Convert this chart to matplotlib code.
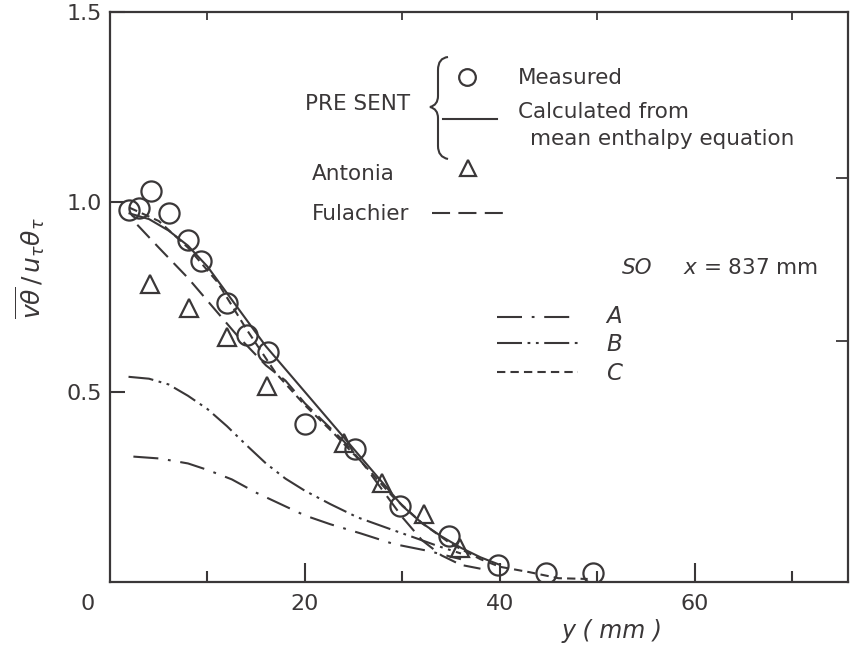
import numpy as np
import matplotlib
matplotlib.use('Agg')
import matplotlib.pyplot as plt
from matplotlib.path import Path
from matplotlib.patches import PathPatch
from matplotlib.lines import Line2D

plt.rcParams['lines.scale_dashes'] = False
plt.rcParams['font.family'] = ['DejaVu Sans']
plt.rcParams['mathtext.fontset'] = 'dejavusans'

# ---------------- data ----------------
meas_x = [2.0, 3.0, 4.2, 6.1, 8.0, 9.3, 12.0, 14.1, 16.2, 20.0, 25.1, 29.7, 34.8, 39.8, 44.7, 49.5]
meas_y = [0.98, 0.985, 1.03, 0.97, 0.90, 0.845, 0.735, 0.65, 0.605, 0.415, 0.35, 0.20, 0.12, 0.045, 0.025, 0.025]

antonia_x = [4.1, 8.1, 12.0, 16.1, 24.0, 27.9, 32.2, 35.9]
antonia_y = [0.785, 0.72, 0.645, 0.515, 0.365, 0.26, 0.18, 0.09]

calc_x = [2, 4, 6, 8, 10, 12, 14, 16, 18, 20, 22, 24, 26, 28, 30, 32, 34, 36, 38, 40]
calc_y = [0.97, 0.955, 0.925, 0.885, 0.83, 0.76, 0.69, 0.62, 0.56, 0.50, 0.44, 0.38, 0.32, 0.26, 0.20, 0.155, 0.12, 0.09, 0.065, 0.045]

fula_x = [2.8, 5, 8, 10, 13, 16, 18, 20, 22, 24, 26, 28, 30, 32, 34, 36, 38]
fula_y = [0.94, 0.88, 0.80, 0.74, 0.65, 0.57, 0.53, 0.47, 0.42, 0.37, 0.31, 0.24, 0.17, 0.11, 0.07, 0.045, 0.035]

a_x = [2.4, 5.1, 8.0, 10.0, 12.5, 15.0, 17.5, 20.0, 22.6, 25.7, 29.1, 32.6, 36.0]
a_y = [0.33, 0.325, 0.312, 0.295, 0.27, 0.235, 0.205, 0.175, 0.152, 0.128, 0.10, 0.082, 0.06]

b_x = [1.9, 4.0, 6.0, 8.0, 10.0, 12.0, 14.0, 16.0, 18.0, 20.0, 22.6, 25.4, 29.1, 31.1, 33.6, 36.0]
b_y = [0.54, 0.535, 0.52, 0.49, 0.455, 0.41, 0.36, 0.312, 0.272, 0.24, 0.205, 0.17, 0.136, 0.118, 0.095, 0.075]

c_x = [2, 5, 8, 11, 14, 17, 20, 23, 26, 29, 32, 35, 38, 40, 43, 46, 49]
c_y = [0.985, 0.95, 0.88, 0.79, 0.665, 0.55, 0.465, 0.39, 0.31, 0.225, 0.155, 0.10, 0.06, 0.04, 0.026, 0.01, 0.008]

x_major = [20, 40, 60]
x_minor = [10, 30, 50, 70]
y_major = [0.5, 1.0, 1.5]
y_major_labels = ['0.5', '1.0', '1.5']

# ---------------- styles ----------------
INK = '#3a3738'
LW = 1.5
S_FULA = (0, (13, 6))
S_A = (0, (18, 7, 2, 7))
S_B = (0, (18, 4, 2, 4, 2, 4))
S_C = (0, (6, 3.7))

W, H = 851, 647
fig = plt.figure(figsize=(W / 100, H / 100), dpi=100)
ax = fig.add_axes([110 / W, 1 - 582 / H, 738 / W, 570 / H])
ax.set_xlim(0, 75.7)
ax.set_ylim(0, 1.5)

ax.plot(calc_x, calc_y, color=INK, lw=LW, ls='-')
ax.plot(fula_x, fula_y, color=INK, lw=LW, ls=S_FULA)
ax.plot(a_x, a_y, color=INK, lw=LW, ls=S_A)
ax.plot(b_x, b_y, color=INK, lw=LW, ls=S_B)
ax.plot(c_x, c_y, color=INK, lw=LW, ls=S_C)
ax.plot(meas_x, meas_y, ls='none', marker='o', ms=14.5, mfc='none', mec=INK, mew=1.6, zorder=5)
ax.plot(antonia_x, antonia_y, ls='none', marker='^', ms=13, mfc='none', mec=INK, mew=1.6, zorder=5)

for sp in ax.spines.values():
    sp.set_color(INK)
    sp.set_linewidth(1.6)

ax.set_xticks(x_major)
ax.set_xticks(x_minor, minor=True)
ax.set_xticklabels([str(v) for v in x_major])
ax.set_yticks(y_major)
ax.set_yticklabels(y_major_labels)
ax.tick_params(axis='x', which='major', direction='in', length=14, width=1.5, color=INK,
               labelsize=16, labelcolor=INK, pad=9)
ax.tick_params(axis='x', which='minor', direction='in', length=8, width=1.5, color=INK)
ax.tick_params(axis='y', which='major', direction='in', length=11, width=1.5, color=INK,
               labelsize=16, labelcolor=INK, pad=6)

top = ax.secondary_xaxis('top')
top.set_xticks(x_minor)
top.tick_params(direction='in', length=6, width=1.3, color=INK, labeltop=False)
right = ax.secondary_yaxis('right')
right.set_yticks([0.635, 1.063])
right.tick_params(direction='in', length=9, width=1.3, color=INK, labelright=False)
for s in (top, right):
    for sp in s.spines.values():
        sp.set_visible(False)


def fx(px):
    return px / W


def fy(py):
    return 1 - py / H


def ftext(px, py, s, **kw):
    kw.setdefault('color', INK)
    kw.setdefault('va', 'center')
    kw.setdefault('ha', 'left')
    fig.text(fx(px), fy(py), s, **kw)


def fline(x0, x1, py, ls):
    fig.add_artist(Line2D([fx(x0), fx(x1)], [fy(py), fy(py)], transform=fig.transFigure,
                          color=INK, lw=LW, ls=ls))


def fmark(px, py, m, ms):
    fig.add_artist(Line2D([fx(px)], [fy(py)], transform=fig.transFigure, ls='none',
                          marker=m, ms=ms, mfc='none', mec=INK, mew=1.6))


# "0" at the origin corner
ftext(88, 604, '0', ha='center', fontsize=16)

# axis labels
ftext(612, 631, 'y ( mm )', ha='center', fontsize=17, style='italic')
ftext(30, 268, r'$\overline{v\theta}\,/\,u_\tau\theta_\tau$', ha='center', fontsize=18, rotation=90)

# legend block
FS = 15.5
ftext(305, 104, 'PRE SENT', fontsize=FS)
# brace
verts = [(448, 57), (438, 58), (438, 70), (438, 96), (438, 105), (430, 107),
         (438, 109), (438, 118), (438, 146), (438, 157), (448, 159)]
codes = [Path.MOVETO, Path.CURVE3, Path.CURVE3, Path.LINETO, Path.CURVE3, Path.CURVE3,
         Path.CURVE3, Path.CURVE3, Path.LINETO, Path.CURVE3, Path.CURVE3]
verts_f = [(fx(a), fy(b)) for a, b in verts]
fig.add_artist(PathPatch(Path(verts_f, codes), transform=fig.transFigure, fc='none',
                         ec=INK, lw=1.5))

fmark(467, 77, 'o', 12)
ftext(518, 78, 'Measured', fontsize=FS)
fline(443, 497, 119, '-')
ftext(518, 112, 'Calculated from', fontsize=FS)
ftext(530, 139, 'mean enthalpy equation', fontsize=FS)
ftext(312, 174, 'Antonia', fontsize=FS)
fmark(468, 168, '^', 11)
ftext(312, 214, 'Fulachier', fontsize=FS)
fline(432, 503, 213, S_FULA)

ftext(622, 268, 'SO', fontsize=FS, style='italic')
ftext(683, 268, r'$x$ = 837 mm', fontsize=FS)

fline(497, 578, 317, S_A)
ftext(606, 317, 'A', fontsize=FS + 1, style='italic')
fline(497, 578, 343, S_B)
ftext(606, 344, 'B', fontsize=FS + 1, style='italic')
fline(497, 578, 372, S_C)
ftext(606, 373, 'C', fontsize=FS + 1, style='italic')

fig.savefig('out.png', dpi=100, facecolor='white')
